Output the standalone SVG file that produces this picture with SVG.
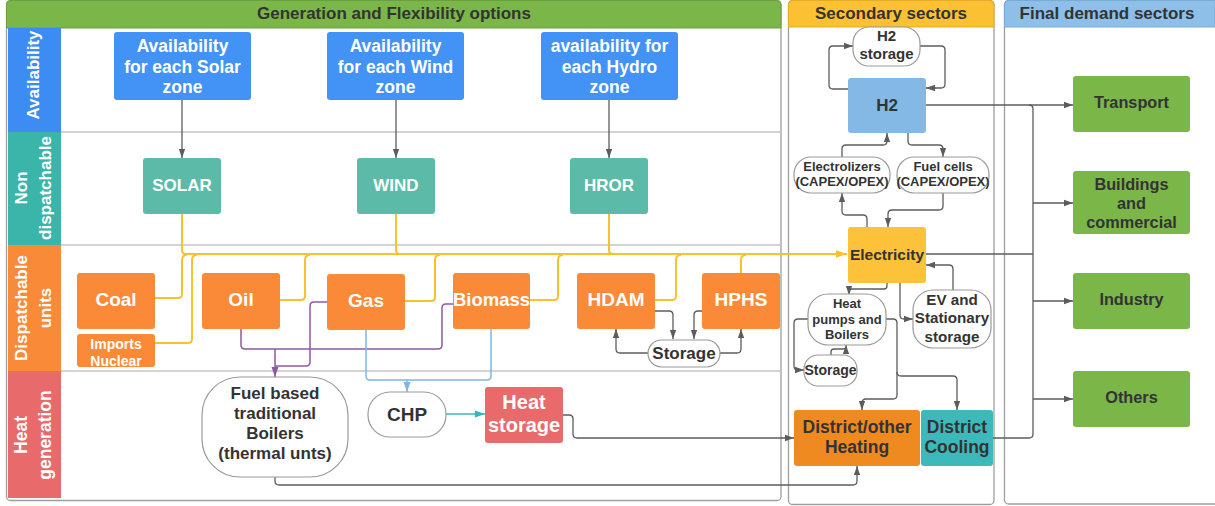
<svg xmlns="http://www.w3.org/2000/svg" width="1215" height="506" viewBox="0 0 1215 506">
<style>
text{font-family:"Liberation Sans",Arial,sans-serif;font-weight:bold;text-anchor:middle}
.w{fill:#ffffff}
.d{fill:#333333}
.pool{fill:#ffffff;stroke:#9e9e9e;stroke-width:1.3}
.sep{stroke:#c4c4c4;stroke-width:1.5;fill:none}
.c{fill:none;stroke:#5c5c5c;stroke-width:1.3;stroke-linejoin:round}
.y{fill:none;stroke:#FBC02D;stroke-width:2;stroke-linejoin:round}
.p{fill:none;stroke:#8E5A9E;stroke-width:1.5;stroke-linejoin:round}
.b{fill:none;stroke:#7DB7E8;stroke-width:1.5;stroke-linejoin:round}
.t{fill:none;stroke:#36B7BF;stroke-width:1.5}
.pill{fill:#ffffff;stroke:#9a9a9a;stroke-width:1.2}
.av{fill:#4392F6}
.nd{fill:#5BBBA8}
.or{fill:#FA8A38}
.fd{fill:#7AB648}
</style>
<defs>
<marker id="ag" viewBox="0 0 10 10" refX="10" refY="5" markerWidth="9" markerHeight="9" markerUnits="userSpaceOnUse" orient="auto"><path d="M0,1.5 L10,5 L0,8.5 z" fill="#5c5c5c"/></marker>
<marker id="ay" viewBox="0 0 10 10" refX="10" refY="5" markerWidth="11" markerHeight="11" markerUnits="userSpaceOnUse" orient="auto"><path d="M0,1.5 L10,5 L0,8.5 z" fill="#FBC02D"/></marker>
<marker id="ap" viewBox="0 0 10 10" refX="10" refY="5" markerWidth="10" markerHeight="10" markerUnits="userSpaceOnUse" orient="auto"><path d="M0,1.5 L10,5 L0,8.5 z" fill="#8E5A9E"/></marker>
<marker id="ab" viewBox="0 0 10 10" refX="10" refY="5" markerWidth="10" markerHeight="10" markerUnits="userSpaceOnUse" orient="auto"><path d="M0,1.5 L10,5 L0,8.5 z" fill="#7DB7E8"/></marker>
<marker id="at" viewBox="0 0 10 10" refX="10" refY="5" markerWidth="10" markerHeight="10" markerUnits="userSpaceOnUse" orient="auto"><path d="M0,1.5 L10,5 L0,8.5 z" fill="#36B7BF"/></marker>
</defs>

<!-- Pools -->
<g id="pool-generation">
<rect class="pool" x="6.5" y="0.5" width="774.5" height="500" rx="4"/>
<path d="M6.5,28 V4.5 Q6.5,0.5 10.5,0.5 H777 Q781,0.5 781,4.5 V28 Z" fill="#7AB648" stroke="#6c9f3f" stroke-width="1"/>
<text class="d" x="394" y="19" font-size="17">Generation and Flexibility options</text>
<line class="sep" x1="61" y1="132" x2="781" y2="132"/>
<line class="sep" x1="61" y1="245" x2="781" y2="245"/>
<line class="sep" x1="61" y1="371" x2="781" y2="371"/>
</g>
<g id="lane-availability">
<rect x="8" y="28" width="53" height="104" fill="#3D8CF3"/>
<text class="w" font-size="17" transform="translate(33,75) rotate(-90)" y="6">Availability</text>
</g>
<g id="lane-nondispatchable">
<rect x="8" y="132" width="53" height="113" fill="#3BB5AA"/>
<text class="w" font-size="17" transform="translate(33,188) rotate(-90)"><tspan x="0" y="-6">Non</tspan><tspan x="0" y="18">dispatchable</tspan></text>
</g>
<g id="lane-dispatchable">
<rect x="8" y="245" width="53" height="126" fill="#F98A38"/>
<text class="w" font-size="17" transform="translate(33,308) rotate(-90)"><tspan x="0" y="-6">Dispatchable</tspan><tspan x="0" y="18">units</tspan></text>
</g>
<g id="lane-heat">
<rect x="8" y="371" width="53" height="127" fill="#E96A6A"/>
<text class="w" font-size="17.5" transform="translate(33,435) rotate(-90)"><tspan x="0" y="-6">Heat</tspan><tspan x="0" y="18">generation</tspan></text>
</g>
<g id="pool-secondary">
<rect class="pool" x="788.5" y="0.5" width="205.5" height="504" rx="4"/>
<path d="M788.5,27 V4.5 Q788.5,0.5 792.5,0.5 H990 Q994,0.5 994,4.5 V27 Z" fill="#FBC132" stroke="#e3ad2a" stroke-width="1"/>
<text class="d" x="891" y="19" font-size="17">Secondary sectors</text>
</g>
<g id="pool-final">
<rect class="pool" x="1004.5" y="0.5" width="215" height="503.5" rx="4"/>
<path d="M1004.5,27 V4.5 Q1004.5,0.5 1008.5,0.5 H1215 V27 Z" fill="#8DBFE8" stroke="#7aaad2" stroke-width="1"/>
<text class="d" x="1107" y="19" font-size="17">Final demand sectors</text>
</g>

<!-- Connectors -->
<g id="connectors">
<path class="c" d="M182,100 V158" marker-end="url(#ag)"/>
<path class="c" d="M396,100 V158" marker-end="url(#ag)"/>
<path class="c" d="M609,100 V158" marker-end="url(#ag)"/>

<path class="y" d="M182,214 V250 Q182,254 186,254 H847" marker-end="url(#ay)"/>
<path class="y" d="M396,214 V250 Q396,254 400,254"/>
<path class="y" d="M609,214 V250 Q609,254 613,254"/>
<path class="y" d="M155,298 H178 Q182,298 182,294 V260 Q182,255 187,255"/>
<path class="y" d="M155,343 H188 Q192,343 192,339 V260 Q192,255 197,255"/>
<path class="y" d="M280,300 H301 Q305,300 305,296 V260 Q305,255 310,255"/>
<path class="y" d="M405,301 H431 Q435,301 435,297 V260 Q435,255 440,255"/>
<path class="y" d="M530,300 H554 Q558,300 558,296 V260 Q558,255 563,255"/>
<path class="y" d="M655,300 H672 Q676,300 676,296 V260 Q676,255 681,255"/>
<path class="y" d="M741,273 V260 Q741,255 746,255"/>

<path class="c" d="M655,311 H669 Q673,311 673,315 V339" marker-end="url(#ag)"/>
<path class="c" d="M702,311 H698 Q694,311 694,315 V339" marker-end="url(#ag)"/>
<path class="c" d="M648,353 H620 Q616,353 616,349 V329" marker-end="url(#ag)"/>
<path class="c" d="M720,353 H737 Q741,353 741,349 V329" marker-end="url(#ag)"/>

<path class="p" d="M241,329 V345 Q241,349 245,349 H438 Q442,349 442,345 V308 Q442,304 446,304 H453"/>
<path class="p" d="M327,302 H314 Q310,302 310,306 V362 Q310,366 306,366 H275"/>
<path class="p" d="M275,349 V377" marker-end="url(#ap)"/>

<path class="b" d="M366,330 V376 Q366,380 370,380 H487 Q491,380 491,376 V329"/>
<path class="b" d="M407,380 V392" marker-end="url(#ab)"/>

<path class="t" d="M446,414 H485" marker-end="url(#at)"/>

<path class="c" d="M563,415 H569 Q573,415 573,419 V434 Q573,438 577,438 H794" marker-end="url(#ag)"/>
<path class="c" d="M275,477 V481 Q275,485 279,485 H853 Q857,485 857,481 V466" marker-end="url(#ag)"/>

<path class="c" d="M848,89 H833 Q829,89 829,85 V50 Q829,46 833,46 H853" marker-end="url(#ag)"/>
<path class="c" d="M920,46 H941 Q945,46 945,50 V84 Q945,88 941,88 H926" marker-end="url(#ag)"/>
<path class="c" d="M926,105 H1073" marker-end="url(#ag)"/>
<path class="c" d="M842,157 V149 Q842,145 846,145 H883 Q887,145 887,141 V133" marker-end="url(#ag)"/>
<path class="c" d="M908,133 V141 Q908,145 912,145 H939 Q943,145 943,149 V157" marker-end="url(#ag)"/>
<path class="c" d="M867,227 V219 Q867,215 863,215 H846 Q842,215 842,211 V193" marker-end="url(#ag)"/>
<path class="c" d="M943,193 V206 Q943,210 939,210 H892 Q888,210 888,214 V227" marker-end="url(#ag)"/>

<path class="c" d="M926,254 H1033"/>
<path class="c" d="M1029,105 Q1033,105 1033,109 V434 Q1033,438 1029,438 H993"/>
<path class="c" d="M1033,203 H1073" marker-end="url(#ag)"/>
<path class="c" d="M1033,301 H1073" marker-end="url(#ag)"/>
<path class="c" d="M1033,399 H1073" marker-end="url(#ag)"/>

<path class="c" d="M953,290 V269 Q953,265 949,265 H926" marker-end="url(#ag)"/>
<path class="c" d="M900,283 V315 Q900,319 904,319 H913" marker-end="url(#ag)"/>
<path class="c" d="M887,283 V286 Q887,289 884,289 H852 Q849,289 849,292 V295" marker-end="url(#ag)"/>
<path class="c" d="M808,319 H798 Q794,319 794,323 V366 Q794,370 798,370 H804" marker-end="url(#ag)"/>
<path class="c" d="M831,355 V352 Q831,349 834,349 H843 Q846,349 846,347 V345" marker-end="url(#ag)"/>
<path class="c" d="M886,319 H893 Q897,319 897,323 V395 Q897,399 893,399 H866 Q862,399 862,403 V410" marker-end="url(#ag)"/>
<path class="c" d="M897,372 Q897,376 901,376 H953 Q957,376 957,380 V410" marker-end="url(#ag)"/>
</g>

<!-- Availability -->
<g id="avail-solar">
<rect class="av" x="114" y="32" width="137" height="68" rx="3"/>
<text class="w" font-size="17.5"><tspan x="182.5" y="52">Availability</tspan><tspan x="182.5" y="73">for each Solar</tspan><tspan x="182.5" y="93">zone</tspan></text>
</g>
<g id="avail-wind">
<rect class="av" x="327" y="32" width="137" height="68" rx="3"/>
<text class="w" font-size="17.5"><tspan x="395.5" y="52">Availability</tspan><tspan x="395.5" y="73">for each Wind</tspan><tspan x="395.5" y="93">zone</tspan></text>
</g>
<g id="avail-hydro">
<rect class="av" x="541" y="32" width="137" height="68" rx="3"/>
<text class="w" font-size="17.5"><tspan x="609.5" y="52">availability for</tspan><tspan x="609.5" y="73">each Hydro</tspan><tspan x="609.5" y="93">zone</tspan></text>
</g>

<!-- Non dispatchable -->
<g id="solar"><rect class="nd" x="143" y="158" width="78" height="56" rx="3"/><text class="w" font-size="17" x="182" y="191">SOLAR</text></g>
<g id="wind"><rect class="nd" x="357" y="158" width="78" height="56" rx="3"/><text class="w" font-size="17" x="396" y="191">WIND</text></g>
<g id="hror"><rect class="nd" x="570" y="158" width="78" height="56" rx="3"/><text class="w" font-size="17" x="609" y="191">HROR</text></g>

<!-- Dispatchable -->
<g id="coal"><rect class="or" x="77" y="273" width="78" height="56" rx="3"/><text class="w" font-size="19" x="116" y="306">Coal</text></g>
<g id="imports-nuclear"><rect class="or" x="77" y="334" width="78" height="33" rx="3"/><text class="w" font-size="14"><tspan x="116" y="349">Imports</tspan><tspan x="116" y="366">Nuclear</tspan></text></g>
<g id="oil"><rect class="or" x="202" y="273" width="78" height="56" rx="3"/><text class="w" font-size="19" x="241" y="306">Oil</text></g>
<g id="gas"><rect class="or" x="327" y="274" width="78" height="56" rx="3"/><text class="w" font-size="19" x="366" y="307">Gas</text></g>
<g id="biomass"><rect class="or" x="453" y="273" width="77" height="56" rx="3"/><text class="w" font-size="18.5" x="491.5" y="306">Biomass</text></g>
<g id="hdam"><rect class="or" x="577" y="273" width="78" height="56" rx="3"/><text class="w" font-size="19" x="616" y="306">HDAM</text></g>
<g id="hphs"><rect class="or" x="702" y="273" width="78" height="56" rx="3"/><text class="w" font-size="19" x="741" y="306">HPHS</text></g>
<g id="hydro-storage"><rect class="pill" x="648" y="340" width="72" height="27" rx="13.5"/><text class="d" font-size="17" x="684" y="359">Storage</text></g>

<!-- Heat generation -->
<g id="boilers"><rect class="pill" x="202" y="377" width="146" height="100" rx="38"/><text class="d" font-size="17"><tspan x="275" y="399">Fuel based</tspan><tspan x="275" y="419">traditional</tspan><tspan x="275" y="439">Boilers</tspan><tspan x="275" y="459">(thermal unts)</tspan></text></g>
<g id="chp"><rect class="pill" x="368" y="392" width="78" height="45" rx="22"/><text class="d" font-size="19" x="407" y="421">CHP</text></g>
<g id="heat-storage"><rect x="485" y="387" width="78" height="56" rx="3" fill="#E96A6A"/><text class="w" font-size="20"><tspan x="524" y="409">Heat</tspan><tspan x="524" y="432">storage</tspan></text></g>

<!-- Secondary -->
<g id="h2-storage"><rect class="pill" x="853" y="27" width="67" height="39" rx="16"/><text class="d" font-size="15"><tspan x="886.5" y="41">H2</tspan><tspan x="886.5" y="59">storage</tspan></text></g>
<g id="h2"><rect x="848" y="78" width="78" height="55" rx="3" fill="#84B9E5"/><text class="d" font-size="17" x="887" y="111">H2</text></g>
<g id="electrolizers"><rect class="pill" x="794" y="157" width="96" height="36" rx="17"/><text class="d" font-size="13"><tspan x="842" y="170.5">Electrolizers</tspan><tspan x="842" y="186">(CAPEX/OPEX)</tspan></text></g>
<g id="fuel-cells"><rect class="pill" x="897" y="157" width="92" height="36" rx="17"/><text class="d" font-size="13"><tspan x="943" y="170.5">Fuel cells</tspan><tspan x="943" y="186">(CAPEX/OPEX)</tspan></text></g>
<g id="electricity"><rect x="848" y="227" width="78" height="56" rx="3" fill="#FCC23A"/><text class="d" font-size="15.5" x="887" y="259.5">Electricity</text></g>
<g id="heat-pumps"><rect class="pill" x="808" y="294" width="78" height="51" rx="20"/><text class="d" font-size="13"><tspan x="847" y="307.5">Heat</tspan><tspan x="847" y="323.5">pumps and</tspan><tspan x="847" y="338.5">Boilers</tspan></text></g>
<g id="ev-storage"><rect class="pill" x="913" y="290" width="78" height="58" rx="20"/><text class="d" font-size="15.2"><tspan x="952" y="304.5">EV and</tspan><tspan x="952" y="323">Stationary</tspan><tspan x="952" y="341.5">storage</tspan></text></g>
<g id="heat-storage-sec"><rect class="pill" x="804" y="355" width="53" height="31" rx="14"/><text class="d" font-size="14" x="830.5" y="374.5">Storage</text></g>
<g id="district-heating"><rect x="794" y="410" width="126" height="56" rx="3" fill="#EF8A21"/><text class="d" font-size="17.5"><tspan x="857" y="433">District/other</tspan><tspan x="857" y="453">Heating</tspan></text></g>
<g id="district-cooling"><rect x="921" y="410" width="72" height="56" rx="3" fill="#3DB9BB"/><text class="d" font-size="17.5"><tspan x="957" y="433">District</tspan><tspan x="957" y="453">Cooling</tspan></text></g>

<!-- Final demand -->
<g id="transport"><rect class="fd" x="1073" y="76" width="117" height="56" rx="3"/><text class="d" font-size="16.3" x="1131.5" y="108">Transport</text></g>
<g id="buildings"><rect class="fd" x="1073" y="171" width="117" height="63" rx="3"/><text class="d" font-size="16.3"><tspan x="1131.5" y="190">Buildings</tspan><tspan x="1131.5" y="209">and</tspan><tspan x="1131.5" y="228">commercial</tspan></text></g>
<g id="industry"><rect class="fd" x="1073" y="273" width="117" height="56" rx="3"/><text class="d" font-size="16.3" x="1131.5" y="305">Industry</text></g>
<g id="others"><rect class="fd" x="1073" y="371" width="117" height="56" rx="3"/><text class="d" font-size="16.3" x="1131.5" y="403">Others</text></g>
</svg>
